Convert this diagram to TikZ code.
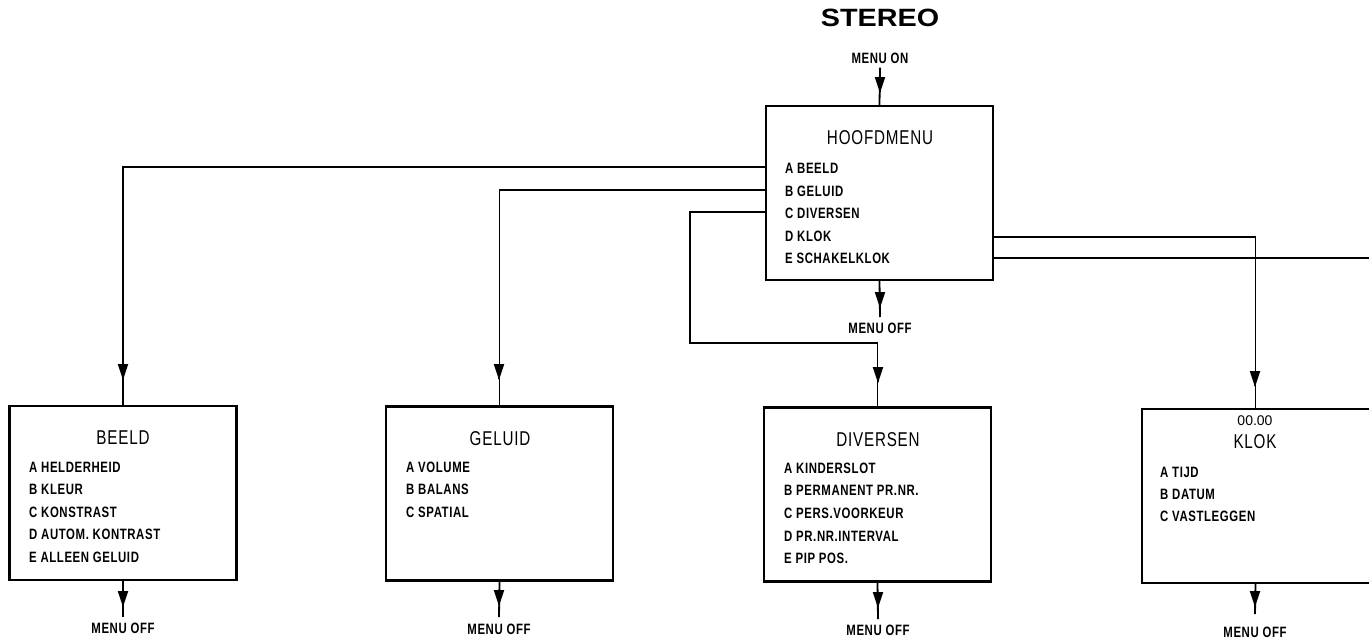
\documentclass[tikz,border=0pt]{standalone}
\usepackage{fontspec}
\usetikzlibrary{arrows.meta}
\newfontfamily\plotfont[FakeStretch=0.76,LetterSpace=4]{Liberation Sans}
\newfontfamily\digitfont{Liberation Sans}
\newfontfamily\stereofont[FakeStretch=1.15]{Liberation Sans}
\begin{document}
\begin{tikzpicture}[x=1pt,y=-1pt,
  box/.style={draw, line width=2.2pt, minimum width=227pt, minimum height=174pt, inner sep=0pt},
  conn/.style={line width=1.8pt},
  tip/.style={line width=1.8pt, -{Triangle[length=16pt,width=10pt]}},
  item/.style={font=\plotfont\bfseries\fontsize{15pt}{18pt}\selectfont, inner sep=0pt, anchor=west, text height=10.7pt, text depth=0pt},
  lbl/.style={font=\plotfont\bfseries\fontsize{15pt}{18pt}\selectfont, inner sep=0pt, text height=10.7pt, text depth=0pt},
  ttl/.style={font=\plotfont\fontsize{20pt}{24pt}\selectfont, inner sep=0pt, text height=14.3pt, text depth=0pt}]
\useasboundingbox (0,0) rectangle (1369,643);
\fill[white] (0,0) rectangle (1369,643);

% title
\node[font=\stereofont\bfseries\fontsize{25pt}{30pt}\selectfont, inner sep=0pt, text height=17.9pt, text depth=0pt] (stereo) at (880,18) {STEREO};
\node[lbl] (menuon) at (880,58) {MENU ON};

% main menu
\node[box] (hoofd) at (879.5,193) {};
\node[ttl] (thoofd) at (880,137) {HOOFDMENU};
\node[item] (h1) at (785,168) {A BEELD};
\node[item] (h2) at (785,191) {B GELUID};
\node[item] (h3) at (785,213) {C DIVERSEN};
\node[item] (h4) at (785,236) {D KLOK};
\node[item] (h5) at (785,258) {E SCHAKELKLOK};
\node[lbl] (offh) at (880,328) {MENU OFF};

% submenu boxes
\node[box] (beeld) at (123,493) {};
\node[ttl] (tbeeld) at (123,437) {BEELD};
\node[item] (b1) at (29,467) {A HELDERHEID};
\node[item] (b2) at (29,489) {B KLEUR};
\node[item] (b3) at (29,512) {C KONSTRAST};
\node[item] (b4) at (29,534) {D AUTOM. KONTRAST};
\node[item] (b5) at (29,557) {E ALLEEN GELUID};
\node[lbl] (offb) at (123,628) {MENU OFF};

\node[box] (geluid) at (499.5,493.5) {};
\node[ttl] (tgeluid) at (500,438) {GELUID};
\node[item] (g1) at (406,467) {A VOLUME};
\node[item] (g2) at (406,489) {B BALANS};
\node[item] (g3) at (406,512) {C SPATIAL};
\node[lbl] (offg) at (499,629) {MENU OFF};

\node[box] (div) at (877.5,494.5) {};
\node[ttl] (tdiv) at (878,439) {DIVERSEN};
\node[item] (d1) at (784,468) {A KINDERSLOT};
\node[item] (d2) at (784,490) {B PERMANENT PR.NR.};
\node[item] (d3) at (784,513) {C PERS.VOORKEUR};
\node[item] (d4) at (784,536) {D PR.NR.INTERVAL};
\node[item] (d5) at (784,558) {E PIP POS.};
\node[lbl] (offd) at (878,630) {MENU OFF};

\node[minimum width=227pt, minimum height=174pt, inner sep=0pt] (klok) at (1255.5,496) {};
\draw[line width=2.2pt] (klok.north east) -- (klok.north west) -- (klok.south west) -- (klok.south east);
\node[font=\digitfont\fontsize{14pt}{16pt}\selectfont, inner sep=0pt, text height=10pt, text depth=0pt] (ktime) at (1255,420) {00.00};
\node[ttl] (tklok) at (1255,441) {KLOK};
\node[item] (k1) at (1160,472) {A TIJD};
\node[item] (k2) at (1160,494) {B DATUM};
\node[item] (k3) at (1160,516) {C VASTLEGGEN};
\node[lbl] (offk) at (1255,632) {MENU OFF};

% arrowhead tip points and bends
\coordinate (onA) at (880,93);
\coordinate (hA) at (880,308);
\coordinate (hE) at (880,317);
\coordinate (aA) at (123,380);
\coordinate (bA) at (499,380);
\coordinate (cTurn) at (690,343);
\coordinate (cA) at (878,383);
\coordinate (dA) at (1255,387);
\coordinate (eEnd) at (1369,258);

% menu on
\draw[conn] (menuon.south) ++(0,4) -- (hoofd.north);
\draw[tip] (onA) ++(0,-1) -- (onA);
% menu off main
\draw[conn] (hoofd.south) -- (hE);
\draw[tip] (hA) ++(0,-1) -- (hA);

% A
\draw[conn] (hoofd.west |- h1.west) ++(0,-1) -| (beeld.north);
\draw[tip] (aA) ++(0,-1) -- (aA);
% B
\draw[conn] (hoofd.west |- h2.west) ++(0,-1) -| (geluid.north);
\draw[tip] (bA) ++(0,-1) -- (bA);
% C
\draw[conn] (hoofd.west |- h3.west) ++(0,-1) -| (cTurn) -| (div.north);
\draw[tip] (cA) ++(0,-1) -- (cA);
% D
\draw[conn] (hoofd.east |- h4.west) ++(0,1) -| (klok.north);
\draw[tip] (dA) ++(0,-1) -- (dA);
% E
\draw[conn] (hoofd.east |- h5.west) -- (eEnd);

% menu off of submenus
\foreach \b/\x/\t/\e in {beeld/123/607/617, geluid/499/606/617, div/878/608/619, klok/1255/607/614}{
  \draw[conn] (\b.south) -- (\x,\e);
  \draw[tip] (\x,\t) ++(0,-1) -- (\x,\t);
}
\end{tikzpicture}
\end{document}
